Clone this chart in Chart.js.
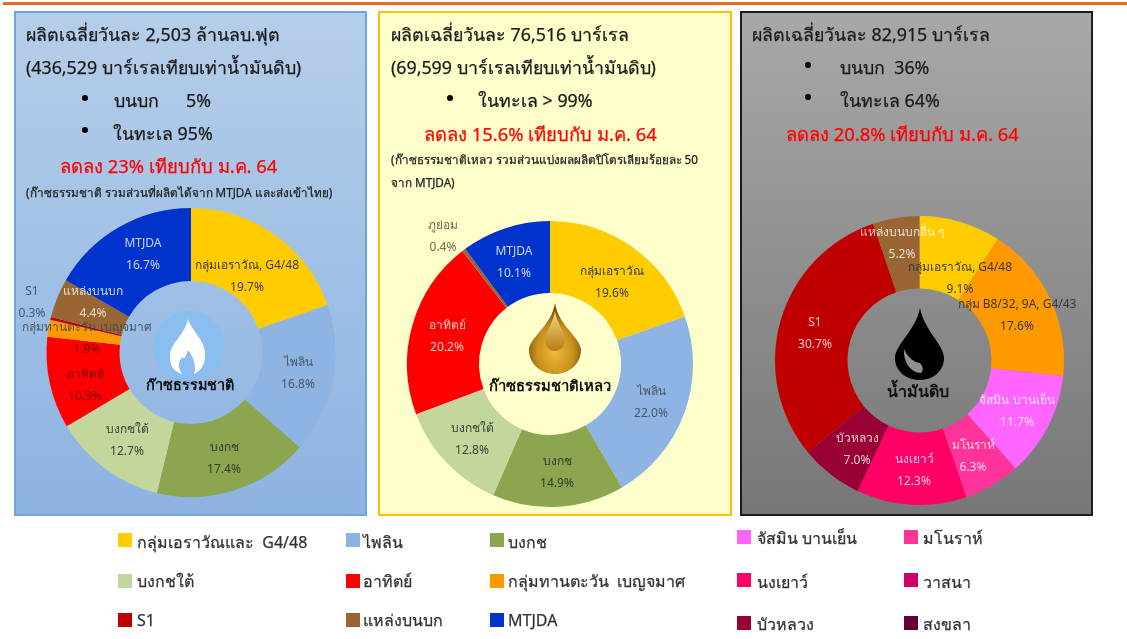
<!DOCTYPE html>
<html lang="th"><head><meta charset="utf-8">
<script src="https://cdn.jsdelivr.net/npm/chart.js@4"></script>
<style>
html,body{margin:0;padding:0;background:#fff;width:1127px;height:639px;overflow:hidden;font-family:"Noto Sans","Open Sans",sans-serif}
#page{position:absolute;left:0;top:0;width:1127px;height:639px;filter:blur(.35px)}
.abs{position:absolute}
.panel{position:absolute;box-sizing:border-box;top:11px;height:505px;border-style:solid;border-width:2px}
canvas{position:absolute}
.t{position:absolute;white-space:pre;transform:translateY(-50%);color:#1a1a1a;line-height:1.2;-webkit-text-stroke:.25px currentColor}
.sq{position:absolute;width:14px;height:14px}
svg{position:absolute;left:0;top:0;pointer-events:none}
</style></head><body><div id="page">
<div class="abs" style="left:3px;top:2px;width:1124px;height:3px;background:#E46C1F"></div>
<div class="panel" style="left:14px;width:353px;border-color:#6ea4dc;background:linear-gradient(#b5cee9,#8db3e2)"></div>
<div class="panel" style="left:378px;width:354px;border-color:#FFC000;background:#FFFFCC"></div>
<div class="panel" style="left:740px;width:353px;border-color:#1c1c1c;background:linear-gradient(#a8a8a8,#777)"></div>
<canvas id="c1"></canvas><canvas id="c2"></canvas><canvas id="c3"></canvas>
<svg width="1127" height="639" viewBox="0 0 1127 639">
<defs>
<radialGradient id="gold" cx="50%" cy="68%" r="60%"><stop offset="0" stop-color="#eebc3a"/><stop offset=".6" stop-color="#c98f1c"/><stop offset="1" stop-color="#6f470c"/></radialGradient>
<linearGradient id="gold2" x1="0" y1="0" x2="0" y2="1"><stop offset="0" stop-color="#f4d98a"/><stop offset="1" stop-color="#b87c12"/></linearGradient>
</defs>
<circle cx="188.7" cy="346.5" r="35.5" fill="#8abdf0"/>
<path d="M188,319 C192,332 206,340 205,356 C205,366 199,372 194,374 C197,366 193,356 188,350 C186,357 184,360 182,357 C178,362 178,368 182,374 C174,372 169,365 170,355 C171,342 185,335 188,319 Z" fill="#fff"/>
<path d="M555,303 C558,325 581,338 581,350 C581,364 569,374 555,374 C541,374 529,364 529,350 C529,338 552,325 555,303 Z" fill="url(#gold)"/>
<path d="M555,311 C557,324 565,332 565,340 C565,347 560,351 555,351 C550,351 545,347 545,340 C545,332 553,324 555,311 Z" fill="url(#gold2)"/>
<path d="M920,308 C924,330 944,345 944,358 C944,371 933,380 920,380 C906,380 895,371 895,358 C895,345 916,330 920,308 Z" fill="#000"/>
<path d="M904,349 C903,362 911,373 921,373 C924,371 923,366 920,363 C914,362 908,358 904,349 Z" fill="#8f8f8f"/>
</svg>
<div id="texts"></div>
</div>
<script>
/* ---------- data ---------- */
const gasCategories = ["กลุ่มเอราวัณ, G4/48","ไพลิน","บงกช","บงกชใต้","อาทิตย์","กลุ่มทานตะวัน เบญจมาศ","S1","แหล่งบนบก","MTJDA"];
const gasValues = [19.7,16.8,17.4,12.7,10.3,1.9,0.3,4.4,16.7];
const lngCategories = ["กลุ่มเอราวัณ","ไพลิน","บงกช","บงกชใต้","อาทิตย์","ภูย่อม","MTJDA"];
const lngValues = [19.6,22.0,14.9,12.8,20.2,0.4,10.1];
const oilCategories = ["กลุ่มเอราวัณ, G4/48","กลุ่ม B8/32, 9A, G4/43","จัสมิน บานเย็น","มโนราห์","นงเยาว์","บัวหลวง","S1","แหล่งบนบกอื่น ๆ"];
const oilValues = [9.1,17.6,11.7,6.3,12.3,7.0,30.7,5.2];
const legendLabels = ["กลุ่มเอราวัณและ  G4/48","ไพลิน","บงกช","บงกชใต้","อาทิตย์","กลุ่มทานตะวัน  เบญจมาศ","S1","แหล่งบนบก","MTJDA"];
const legendLabelsRight = ["จัสมิน บานเย็น","มโนราห์","นงเยาว์","วาสนา","บัวหลวง","สงขลา"];

/* ---------- styles ---------- */
const Y="#FFCC00",B="#8EB4E3",G="#8BA64E",L="#C3D69B",R="#FF0000",O="#FF9900",D="#C00000",W="#996633",M="#0033CC";
const gasColors=[Y,B,G,L,R,O,D,W,M];
const lngColors=[Y,B,G,L,R,W,M];
const oilColors=[Y,O,"#FF66FF","#FF3399","#FF0066","#990033",D,W];
const legendColors=gasColors;
const legendColorsRight=["#FF66FF","#FF3399","#FF0066","#CC0066","#990033","#660033"];
const dk="rgba(45,45,45,.9)",lt="rgba(255,255,255,.78)",gy="rgba(60,70,85,.85)";
const FF='"Noto Sans","Open Sans",sans-serif';

function donut(id,box,geo,cats,vals,cols,pos,inks,valueInks,centre){
  const c=document.getElementById(id);
  c.width=box.w;c.height=box.h;c.style.left=box.x+"px";c.style.top=box.y+"px";c.style.width=box.w+"px";c.style.height=box.h+"px";
  const labels={id:"labels",afterDatasetsDraw(ch){
    const x=ch.ctx;x.save();x.textAlign="center";x.textBaseline="middle";x.font='12px '+FF;
    vals.forEach((v,i)=>{
      const p=pos[i];x.fillStyle=inks[i];
      x.fillText(cats[i],p[0]-box.x,p[1]-box.y);
      x.fillStyle=valueInks[i];
      x.fillText(v.toFixed(1)+"%",p[0]-box.x,p[1]-box.y+21.5);
    });
    x.fillStyle="#111";x.font='bold '+centre.size+'px '+FF;
    x.fillText(centre.t,centre.x-box.x,centre.y-box.y);
    x.restore();
  }};
  new Chart(c,{type:"doughnut",plugins:[labels],
    data:{labels:cats,datasets:[{data:vals,backgroundColor:cols,borderWidth:0}]},
    options:{responsive:false,animation:false,cutout:(geo.r/geo.R*100)+"%",
      layout:{padding:{left:geo.cx-geo.R-box.x,top:geo.cy-geo.R-box.y,right:box.x+box.w-geo.cx-geo.R,bottom:box.y+box.h-geo.cy-geo.R}},
      plugins:{legend:{display:false},tooltip:{enabled:false}}}});
}
const red="rgba(110,0,0,.9)";
const gasInks=[dk,gy,dk,dk,red,gy,gy,lt,lt];
const gasValueInks=[dk,gy,dk,dk,red,red,gy,lt,lt];
const lngInks=[dk,gy,dk,dk,lt,"rgba(80,80,60,.85)",lt];
const oilInks=[dk,dk,lt,lt,lt,lt,lt,lt];
donut("c1",{x:15,y:200,w:352,h:315},{cx:191,cy:352.5,R:144.5,r:71.5},gasCategories,gasValues,gasColors,
 [[247,266],[298,363],[224,448],[127,430],[85,375],[87,328],[32,292],[93,292],[143,244]],
 gasInks,gasValueInks,{t:"ก๊าซธรรมชาติ",x:190,y:386,size:14.4});
donut("c2",{x:380,y:200,w:352,h:315},{cx:550,cy:364,R:143,r:71},lngCategories,lngValues,lngColors,
 [[612,272],[651,392],[557,462],[472,429],[447,326],[443,226],[514,252]],
 lngInks,lngInks,{t:"ก๊าซธรรมชาติเหลว",x:550,y:387,size:14.8});
donut("c3",{x:742,y:200,w:350,h:315},{cx:919.5,cy:360.5,R:144.5,r:72},oilCategories,oilValues,oilColors,
 [[960,268],[1017,305],[1017,401],[973,446],[914,460],[857,439],[815,323],[902,233]],
 oilInks,oilInks,{t:"น้ำมันดิบ",x:918,y:392,size:16});

/* ---------- text ---------- */
const host=document.getElementById("texts");
function T(s,x,y,size,color){const d=document.createElement("div");d.className="t";d.textContent=s;
 d.style.left=x+"px";d.style.top=y+"px";d.style.fontSize=size+"px";if(color)d.style.color=color;host.appendChild(d);return d;}
function Bul(x,y){const d=document.createElement("div");d.className="abs";d.style.cssText+=`left:${x-3}px;top:${y-3}px;width:6px;height:6px;border-radius:50%;background:#000`;host.appendChild(d);}
const H=17.8,HR=18.4,RED="#FF0000",S=11.7;
T("ผลิตเฉลี่ยวันละ 2,503 ล้านลบ.ฟุต",26,35,H);
T("(436,529 บาร์เรลเทียบเท่าน้ำมันดิบ)",26,68,H);
Bul(85,98);T("บนบก",114,101,H);T("5%",186,101,H);
Bul(85,130);T("ในทะเล 95%",113,134,H);
T("ลดลง 23% เทียบกับ ม.ค. 64",60,166,HR,RED);
T("(ก๊าซธรรมชาติ รวมส่วนที่ผลิตได้จาก MTJDA และส่งเข้าไทย)",26,192,S,"#222");
T("ผลิตเฉลี่ยวันละ 76,516 บาร์เรล",391,35,H);
T("(69,599 บาร์เรลเทียบเท่าน้ำมันดิบ)",391,68,H);
Bul(450,98);T("ในทะเล > 99%",478,101,H);
T("ลดลง 15.6% เทียบกับ ม.ค. 64",424,134,HR,RED);
T("(ก๊าซธรรมชาติเหลว รวมส่วนแบ่งผลผลิตปิโตรเลียมร้อยละ 50",391,159,S,"#222");
T("จาก MTJDA)",391,182,S,"#222");
T("ผลิตเฉลี่ยวันละ 82,915 บาร์เรล",752,35,H);
Bul(808,65);T("บนบก  36%",840,68,H);
Bul(808,97);T("ในทะเล 64%",840,101,H);
T("ลดลง 20.8% เทียบกับ ม.ค. 64",786,134,HR,RED);

function legend(labels,colors,xs,txs,ys,tys,size){
 labels.forEach((s,i)=>{const col=i%xs.length,row=Math.floor(i/xs.length);
  const q=document.createElement("div");q.className="sq";q.style.left=xs[col]+"px";q.style.top=ys[row]+"px";q.style.background=colors[i];host.appendChild(q);
  T(s,txs[col],tys[row],size,"#333");});
}
legend(legendLabels,legendColors,[118,346,490],[137,363,508],[533,574,613],[543,582,621],16);
legend(legendLabelsRight,legendColorsRight,[737,904],[757,923],[530,573,616],[539,583,625],16);
</script>
</body></html>
